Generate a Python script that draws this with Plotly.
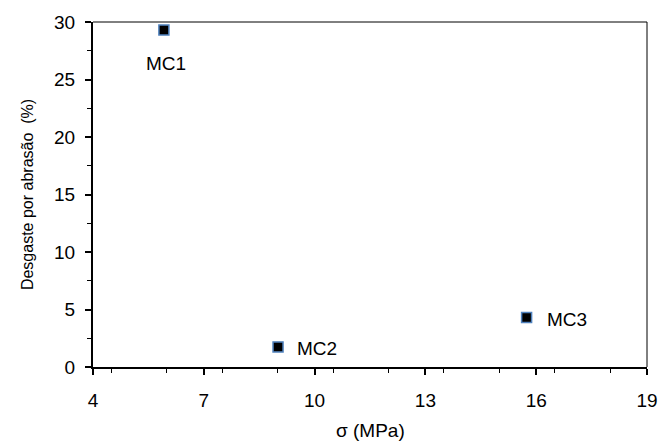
import plotly.graph_objects as go

# Mix designs: flexural strength (MPa) vs abrasion wear (%)
mixes = ["MC1", "MC2", "MC3"]
sigma_mpa = [5.92, 9.01, 15.74]
wear_pct = [29.3, 1.75, 4.3]

# label placement per mix: (xshift, yshift, xanchor)
label_pos = {"MC1": (2, -33, "center"), "MC2": (17, -2, "left"), "MC3": (18, -2, "left")}

font = dict(family="Liberation Sans, Arial", size=19, color="black")
title_font = dict(family="Liberation Sans, Arial", size=16, color="black")

fig = go.Figure()
fig.add_trace(go.Scatter(
    x=sigma_mpa, y=wear_pct, mode="markers",
    marker=dict(symbol="square", size=10, color="black",
                line=dict(color="#4f81bd", width=1.5)),
    showlegend=False, hoverinfo="x+y",
))

for name, xv, yv in zip(mixes, sigma_mpa, wear_pct):
    xs, ys, xa = label_pos[name]
    fig.add_annotation(x=xv, y=yv, text=name, showarrow=False,
                       xshift=xs, yshift=ys, xanchor=xa, yanchor="middle",
                       font=font)

# x-axis title placed below the tick labels
fig.add_annotation(x=0.5, y=0, xref="paper", yref="paper", text="σ (MPa)",
                   showarrow=False, yshift=-63, yanchor="middle", font=font)

fig.update_layout(
    width=661, height=444,
    margin=dict(l=93, r=14, t=20, b=77),
    paper_bgcolor="white", plot_bgcolor="white",
    font=font,
    xaxis=dict(range=[4, 19], tick0=4, dtick=3, ticks="outside", ticklen=6,
               tickwidth=1.5, tickcolor="black", ticklabelstandoff=9,
               minor=dict(dtick=1.5, ticks="outside", ticklen=4, tickwidth=1, tickcolor="black"),
               showline=True, linecolor="black", linewidth=2, showgrid=False,
               zeroline=False, tickfont=font, automargin=False),
    yaxis=dict(range=[0, 30], tick0=0, dtick=5, ticks="outside", ticklen=6,
               tickwidth=1.5, tickcolor="black", ticklabelstandoff=6,
               minor=dict(dtick=2.5, ticks="outside", ticklen=4, tickwidth=1, tickcolor="black"),
               showline=True, linecolor="black", linewidth=2, showgrid=False,
               zeroline=False, tickfont=font,
               title=dict(text="Desgaste por abrasão  (%)", font=title_font, standoff=16)),
)

# thin frame on top and right sides
fig.add_shape(type="line", xref="paper", yref="paper", x0=0, x1=1, y0=1, y1=1,
              line=dict(color="black", width=1))
fig.add_shape(type="line", xref="paper", yref="paper", x0=1, x1=1, y0=0, y1=1,
              line=dict(color="black", width=1))

fig.write_html("out.html")
